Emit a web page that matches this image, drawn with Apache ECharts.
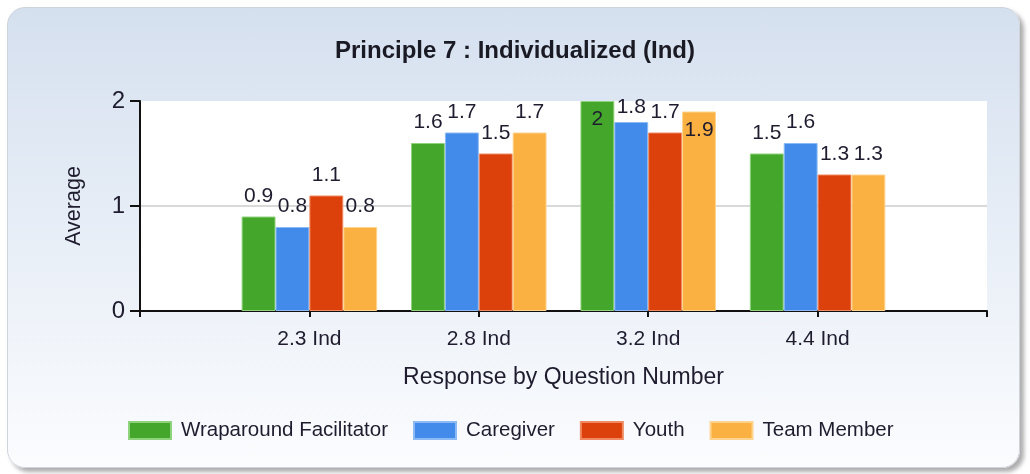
<!DOCTYPE html>
<html>
<head>
<meta charset="utf-8">
<script src="https://cdn.jsdelivr.net/npm/echarts@6/dist/echarts.min.js"></script>
<style>
  html, body {
    margin: 0;
    padding: 0;
    background: #ffffff;
  }
  .wrap {
    position: relative;
    width: 1030px;
    height: 474px;
  }
  /* rounded panel behind the chart */
  .panel {
    position: absolute;
    left: 7px;
    top: 7px;
    width: 1011px;
    height: 459px;
    border: 1px solid #cfd4dc;
    border-radius: 18px;
    background: linear-gradient(to bottom, #d5e0ef 0%, #e6edf6 45%, #fbfcfe 100%);
    box-shadow: 4px 4px 4px rgba(0, 0, 0, 0.32);
  }
  #chart {
    position: absolute;
    left: 0;
    top: 0;
    width: 1030px;
    height: 474px;
  }
</style>
</head>
<body>
<div class="wrap">
  <div class="panel"></div>
  <div id="chart"></div>
</div>
<script>
// 题目分类
const categories = ['2.3 Ind', '2.8 Ind', '3.2 Ind', '4.4 Ind']

// 各角色平均分
const facilitator = [0.9, 1.6, 2, 1.5]
const caregiver = [0.8, 1.7, 1.8, 1.6]
const youth = [1.1, 1.5, 1.7, 1.3]
const teamMember = [0.8, 1.7, 1.9, 1.3]

const seriesNames = ['Wraparound Facilitator', 'Caregiver', 'Youth', 'Team Member']
const yMin = 0
const yMax = 2
const yStep = 1

const colors = ['#44a62b', '#428bea', '#dc410c', '#fbb142']
const borders = ['#8fd27c', '#8cbaf4', '#f08a62', '#fdd48f']
const font = '"Liberation Sans", Arial, sans-serif'
const textColor = '#1e1c2e'

// 两端留空一个刻度位置
const axisData = ['', ...categories, '']

// 顶部放不下的标签移到柱内
const makeData = (values) => {
  const out = values.map(v => {
    if (v >= yMax - 0.1) {
      return { value: v, label: { position: 'insideTop', distance: 8 } }
    }
    if (v >= yMax - 0.2) {
      return { value: v, label: { distance: 4 } }
    }
    return v
  })
  return ['-', ...out, '-']
}

const chart = echarts.init(document.getElementById('chart'), null, { renderer: 'canvas' })

const option = {
  backgroundColor: 'transparent',
  animation: false,
  textStyle: { fontFamily: font },
  title: {
    text: 'Principle 7 : Individualized (Ind)',
    left: 'center',
    top: 39,
    padding: 0,
    textStyle: {
      fontFamily: font,
      fontSize: 24,
      fontWeight: 'bold',
      color: '#1a1a24'
    }
  },
  legend: {
    left: 128,
    top: 420,
    padding: 0,
    itemWidth: 42,
    itemHeight: 17,
    itemGap: 25,
    icon: 'rect',
    textStyle: {
      fontFamily: font,
      fontSize: 20.5,
      color: textColor,
      padding: [0, 0, 0, 5]
    },
    data: seriesNames
  },
  grid: {
    left: 140,
    right: 43,
    top: 101,
    bottom: 163,
    show: true,
    backgroundColor: '#ffffff',
    borderWidth: 0
  },
  xAxis: {
    type: 'category',
    data: axisData,
    boundaryGap: false,
    name: 'Response by Question Number',
    nameLocation: 'middle',
    nameGap: 55,
    nameTextStyle: {
      fontFamily: font,
      fontSize: 23,
      color: textColor
    },
    axisLine: {
      lineStyle: { color: '#111111', width: 2 }
    },
    axisTick: {
      show: true,
      length: 6,
      interval: 0,
      lineStyle: { color: '#111111', width: 2 }
    },
    axisLabel: {
      interval: 0,
      margin: 18,
      fontFamily: font,
      fontSize: 21,
      color: textColor
    },
    splitLine: { show: false }
  },
  yAxis: {
    type: 'value',
    min: yMin,
    max: yMax,
    interval: yStep,
    name: 'Average',
    nameLocation: 'middle',
    nameGap: 55,
    nameTextStyle: {
      fontFamily: font,
      fontSize: 21.5,
      color: textColor
    },
    axisLine: {
      show: true,
      lineStyle: { color: '#111111', width: 2 }
    },
    axisTick: {
      show: true,
      length: 10,
      lineStyle: { color: '#111111', width: 2 }
    },
    axisLabel: {
      margin: 15,
      fontFamily: font,
      fontSize: 24,
      color: textColor
    },
    splitLine: {
      show: true,
      // 只显示中间那条网格线
      lineStyle: { color: ['rgba(0,0,0,0)', '#d9d9d9', 'rgba(0,0,0,0)'], width: 2 }
    }
  },
  series: [facilitator, caregiver, youth, teamMember].map((values, i) => ({
    name: seriesNames[i],
    type: 'bar',
    data: makeData(values),
    barGap: '0%',
    barCategoryGap: '20%',
    itemStyle: {
      color: colors[i],
      borderColor: borders[i],
      borderWidth: 1
    },
    label: {
      show: true,
      position: 'top',
      distance: 10,
      fontFamily: font,
      fontSize: 21,
      color: textColor
    }
  }))
}

chart.setOption(option)
</script>
</body>
</html>
